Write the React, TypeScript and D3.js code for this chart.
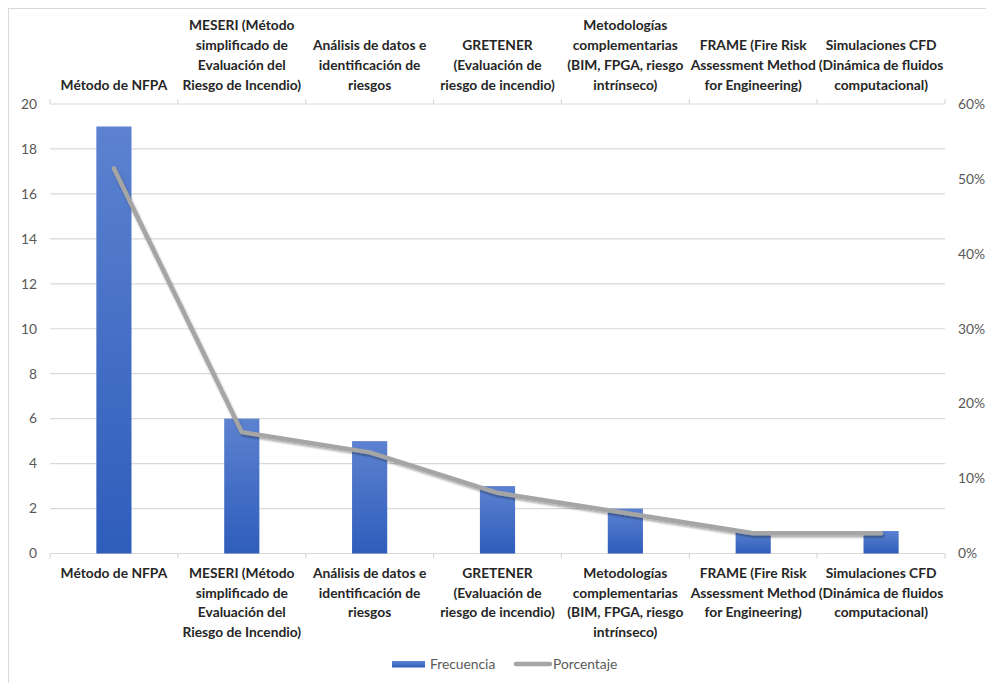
import React from "react";
import * as d3 from "d3";

const categories: string[][] = [
  ["Método de NFPA"],
  ["MESERI (Método", "simplificado de", "Evaluación del", "Riesgo de Incendio)"],
  ["Análisis de datos e", "identificación de", "riesgos"],
  ["GRETENER", "(Evaluación de", "riesgo de incendio)"],
  ["Metodologías", "complementarias", "(BIM, FPGA, riesgo", "intrínseco)"],
  ["FRAME (Fire Risk", "Assessment Method", "for Engineering)"],
  ["Simulaciones CFD", "(Dinámica de fluidos", "computacional)"],
];
const frecuencia: number[] = [19, 6, 5, 3, 2, 1, 1];
const porcentaje: number[] = [0.514, 0.162, 0.135, 0.081, 0.054, 0.027, 0.027];
const leftTicks: number[] = [0, 2, 4, 6, 8, 10, 12, 14, 16, 18, 20];
const rightTicks: number[] = [0, 0.1, 0.2, 0.3, 0.4, 0.5, 0.6];

const W = 986;
const H = 683;
const plot = { left: 50, right: 945, top: 104, bottom: 553.5 };
const FONT = "Lato, 'Noto Sans', sans-serif";
const GRID = "#D9D9D9";
const AXIS_TEXT = "#595959";
const LABEL_TEXT = "#262626";
const LINE_H = 19.8;
const LABEL_SIZE = 13.8;

export default function App() {
  const keys = categories.map((_, i) => String(i));
  const x = d3.scaleBand<string>().domain(keys).range([plot.left, plot.right]).paddingInner(0).paddingOuter(0);
  const yL = d3.scaleLinear().domain([0, 20]).range([plot.bottom, plot.top]);
  const yR = d3.scaleLinear().domain([0, 0.6]).range([plot.bottom, plot.top]);
  const barW = x.bandwidth() * 0.275;
  const cx = (i: number) => (x(String(i)) as number) + x.bandwidth() / 2;

  const line = d3
    .line<number>()
    .x((_, i) => cx(i))
    .y((d) => yR(d));

  const boundaries = d3.range(categories.length + 1).map((i) => plot.left + i * x.bandwidth());
  const pctFmt = d3.format(".0%");

  return (
    <svg
      width={W}
      height={H}
      style={{ position: "absolute", left: 0, top: 0, background: "#fff" }}
      fontFamily={FONT}
    >
      <defs>
        <linearGradient id="barFill" x1="0" y1="0" x2="0" y2="1">
          <stop offset="0%" stopColor="#5C82D0" />
          <stop offset="100%" stopColor="#2F5DBB" />
        </linearGradient>
        <filter id="lineShadow" x="-10%" y="-10%" width="120%" height="130%">
          <feGaussianBlur in="SourceAlpha" stdDeviation="1.2" />
          <feOffset dx="0.5" dy="1.5" result="b" />
          <feComponentTransfer>
            <feFuncA type="linear" slope="0.35" />
          </feComponentTransfer>
          <feMerge>
            <feMergeNode />
            <feMergeNode in="SourceGraphic" />
          </feMerge>
        </filter>
      </defs>

      {/* chart frame */}
      <rect x={8.5} y={8.5} width={990} height={700} fill="none" stroke={GRID} strokeWidth={1} />

      {/* horizontal gridlines */}
      {leftTicks.map((t) => (
        <line key={t} x1={plot.left} x2={plot.right} y1={yL(t)} y2={yL(t)} stroke={GRID} strokeWidth={1.2} />
      ))}

      {/* category tick marks, bottom and top */}
      {boundaries.map((b, i) => (
        <g key={i}>
          <line x1={b} x2={b} y1={plot.bottom} y2={plot.bottom + 5} stroke={GRID} strokeWidth={1.2} />
          <line x1={b} x2={b} y1={plot.top} y2={plot.top - 5} stroke={GRID} strokeWidth={1.2} />
        </g>
      ))}

      {/* bars */}
      {frecuencia.map((v, i) => (
        <rect
          key={i}
          x={cx(i) - barW / 2}
          y={yL(v)}
          width={barW}
          height={plot.bottom - yL(v)}
          fill="url(#barFill)"
        />
      ))}

      {/* percentage line */}
      <path
        d={line(porcentaje) || ""}
        fill="none"
        stroke="#A5A5A5"
        strokeWidth={4.5}
        strokeLinecap="round"
        strokeLinejoin="round"
        filter="url(#lineShadow)"
      />

      {/* left axis */}
      {leftTicks.map((t) => (
        <text key={t} x={37} y={yL(t)} dy="0.35em" textAnchor="end" fontSize={13.8} fill={AXIS_TEXT}>
          {t}
        </text>
      ))}

      {/* right axis */}
      {rightTicks.map((t) => (
        <text key={t} x={958} y={yR(t)} dy="0.35em" textAnchor="start" fontSize={13.8} fill={AXIS_TEXT}>
          {pctFmt(t)}
        </text>
      ))}

      {/* category labels on top (bottom-aligned) */}
      {categories.map((lines, i) => (
        <g key={"t" + i}>
          {lines.map((ln, j) => (
            <text
              key={j}
              x={cx(i)}
              y={85 - (lines.length - 1 - j) * LINE_H}
              dy="0.35em"
              textAnchor="middle"
              fontSize={LABEL_SIZE}
              fontWeight={700}
              fill={LABEL_TEXT}
            >
              {ln}
            </text>
          ))}
        </g>
      ))}

      {/* category labels below (top-aligned) */}
      {categories.map((lines, i) => (
        <g key={"b" + i}>
          {lines.map((ln, j) => (
            <text
              key={j}
              x={cx(i)}
              y={573 + j * LINE_H}
              dy="0.35em"
              textAnchor="middle"
              fontSize={LABEL_SIZE}
              fontWeight={700}
              fill={LABEL_TEXT}
            >
              {ln}
            </text>
          ))}
        </g>
      ))}

      {/* legend */}
      <rect x={392} y={661} width={33} height={6.5} fill="url(#barFill)" />
      <text x={430} y={664} dy="0.35em" fontSize={13.8} fill={AXIS_TEXT}>
        Frecuencia
      </text>
      <line x1={516} x2={550} y1={664} y2={664} stroke="#A5A5A5" strokeWidth={4.5} strokeLinecap="round" />
      <text x={553} y={664} dy="0.35em" fontSize={13.8} fill={AXIS_TEXT}>
        Porcentaje
      </text>
    </svg>
  );
}
